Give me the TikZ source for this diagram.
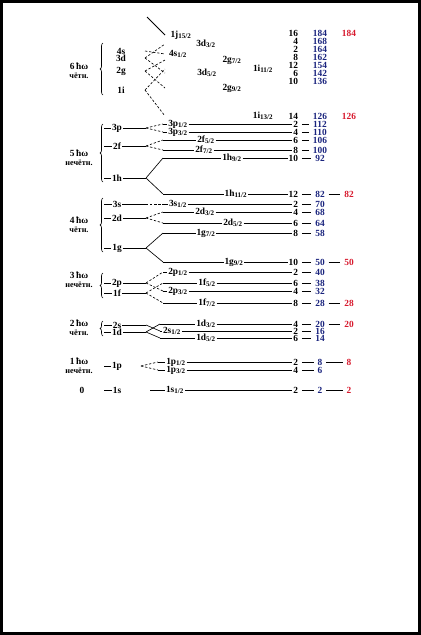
\documentclass[tikz,border=0pt]{standalone}
\usepackage{fontspec}
\setmainfont{Liberation Serif}
\usepackage{xcolor}
\definecolor{SumBlue}{RGB}{25,35,125}
\definecolor{MagicRed}{RGB}{215,25,45}
\usetikzlibrary{decorations.pathreplacing}

\begin{document}
\begin{tikzpicture}[
  x=0.3mm, y=-0.3mm,
  line width=0.55pt,
  font=\footnotesize\bfseries,
  orb/.style={inner sep=0.5pt},
  lvl/.style={inner sep=0.5pt},
  degn/.style={anchor=east, inner sep=0.5pt},
  cum/.style={inner sep=0.5pt, text=SumBlue},
  magic/.style={inner sep=0.5pt, text=MagicRed},
  shell/.style={inner sep=0pt},
  parity/.style={inner sep=0pt, font=\scriptsize\bfseries},
  splitline/.style={dash pattern=on 2pt off 1.5pt},
  numdash/.style={shorten <=2.5pt, shorten >=2.5pt},
  grp/.style={decorate, decoration={brace, amplitude=2.5pt}}
]
\useasboundingbox (0,0) rectangle (421,635);
\draw[line width=0.9mm] (1.5,1.5) rectangle (419.5,633.5);

% levels with spin-orbit splitting
\foreach \nm/\yy/\xs/\xl/\orb/\tj/\dg/\cm in {
  s1/390/150/175/1s/1/2/2,
  p3/370/158/176/1p/3/4/6,
  p1/362/158/176/1p/1/2/8,
  d5/338/160/206/1d/5/6/14,
  s2/331/160/172/2s/1/2/16,
  d3/324/160/206/1d/3/4/20,
  f7/303/163/207/1f/7/8/28,
  p23/291/163/178/2p/3/4/32,
  f5/283/163/207/1f/5/6/38,
  p21/272/163/178/2p/1/2/40,
  g9/262/163/234/1g/9/10/50,
  g7/233/163/206/1g/7/8/58,
  d25/223/163/233/2d/5/6/64,
  d23/212/163/205/2d/3/4/68,
  s3/204/163/178/3s/1/2/70,
  h11/194/163/236/1h/11/12/82,
  h9/158/163/232/1h/9/10/92,
  f27/150/163/204/2f/7/8/100,
  f25/140/163/206/2f/5/6/106,
  p33/132/163/178/3p/3/4/110,
  p31/124/163/178/3p/1/2/112}
{
  \coordinate (\nm-a) at (\xs,\yy);
  \node[lvl] (\nm-l) at (\xl,\yy) {\orb\textsubscript{\tj/2}};
  \node[degn] (\nm-n) at (299,\yy) {\dg};
  \node[cum] (\nm-c) at (320,\yy) {\cm};
  \draw (\nm-a) -- (\nm-l) -- (\nm-n);
  \draw[numdash] (\nm-n) -- (\nm-c);
}

% upper levels, labels only
\foreach \nm/\xl/\yl/\orb/\tj/\yn/\dg/\cm in {
  j15/181/35/1j/15/33/16/184,
  d33/206/44/3d/3/41/4/168,
  s4/178/54/4s/1/49/2/164,
  g27/232/60/2g/7/57/8/162,
  i11/263/69/1i/11/65/12/154,
  d35/207/73/3d/5/73/6/142,
  g29/232/88/2g/9/81/10/136,
  i13/263/116/1i/13/116/14/126}
{
  \coordinate (\nm-a) at (165,\yl);
  \node[lvl] (\nm-l) at (\xl,\yl) {\orb\textsubscript{\tj/2}};
  \node[degn] (\nm-n) at (299,\yn) {\dg};
  \node[cum] (\nm-c) at (320,\yn) {\cm};
}

% magic numbers
\foreach \nm/\mg in {s1/2, p1/8, d3/20, f7/28, g9/50, h11/82} {
  \path (\nm-c) ++(29,0) node[magic] (\nm-m) {\mg};
  \draw[numdash] (\nm-c) -- (\nm-m);
}
\foreach \nm/\mg in {j15/184, i13/126}
  \path (\nm-c) ++(29,0) node[magic] (\nm-m) {\mg};

% oscillator shells
\foreach \n/\yy/\pw in {6/66/чётн., 5/153/нечётн., 4/220/чётн.,
                        3/275/нечётн., 2/323/чётн., 1/361/нечётн.} {
  \node[shell] (w\n) at (79,\yy) {\n\,ħω};
  \node[parity] (w\n-p) at (79,\yy+10) {\pw};
}
\node[shell] (w0) at (82,390) {0};

\draw[grp] (103,95) -- (103,43);
\draw[grp] (103,182) -- (103,124);
\draw[grp] (103,252) -- (103,198);
\draw[grp] (103,298) -- (103,273);
\draw[grp] (103,336) -- (103,321);

\foreach \o/\yy in {4s/51, 3d/58, 2g/71, 1i/90} {
  \node[orb] (o\o) at (121,\yy) {\o};
  \coordinate (x\o) at (145,\yy);
}
\foreach \o/\yy in {3p/128, 2f/146, 1h/178, 3s/204, 2d/218,
                    1g/248, 2p/283, 1f/293, 2s/325, 1d/332} {
  \coordinate (b\o) at (104,\yy);
  \node[orb] (o\o) at (117,\yy) {\o};
  \coordinate (x\o) at (146,\yy);
  \draw (b\o) -- (o\o) -- (x\o);
}
\foreach \o/\yy in {1p/366, 1s/390} {
  \coordinate (b\o) at (104,\yy);
  \node[orb] (o\o) at (117,\yy) {\o};
  \draw (b\o) -- (o\o);
}
\coordinate (x1p) at (141,366);
\coordinate (j-in) at (147,17);

% splitting
\foreach \f/\t in {4s/s4, 3d/d33, 3d/d35, 2g/g27, 2g/g29, 1i/i11, 1i/i13,
                   3p/p31, 3p/p33, 2f/f25, 2f/f27, 3s/s3, 2d/d23, 2d/d25,
                   2p/p21, 2p/p23, 1f/f5, 1f/f7, 1p/p1, 1p/p3}
  \draw[splitline] (x\f) -- (\t-a);
\foreach \f/\t in {1h/h9, 1h/h11, 1g/g7, 1g/g9, 2s/s2, 1d/d3, 1d/d5}
  \draw (x\f) -- (\t-a);
\draw[line width=0.8pt] (j-in) -- (j15-a);

\end{tikzpicture}
\end{document}
